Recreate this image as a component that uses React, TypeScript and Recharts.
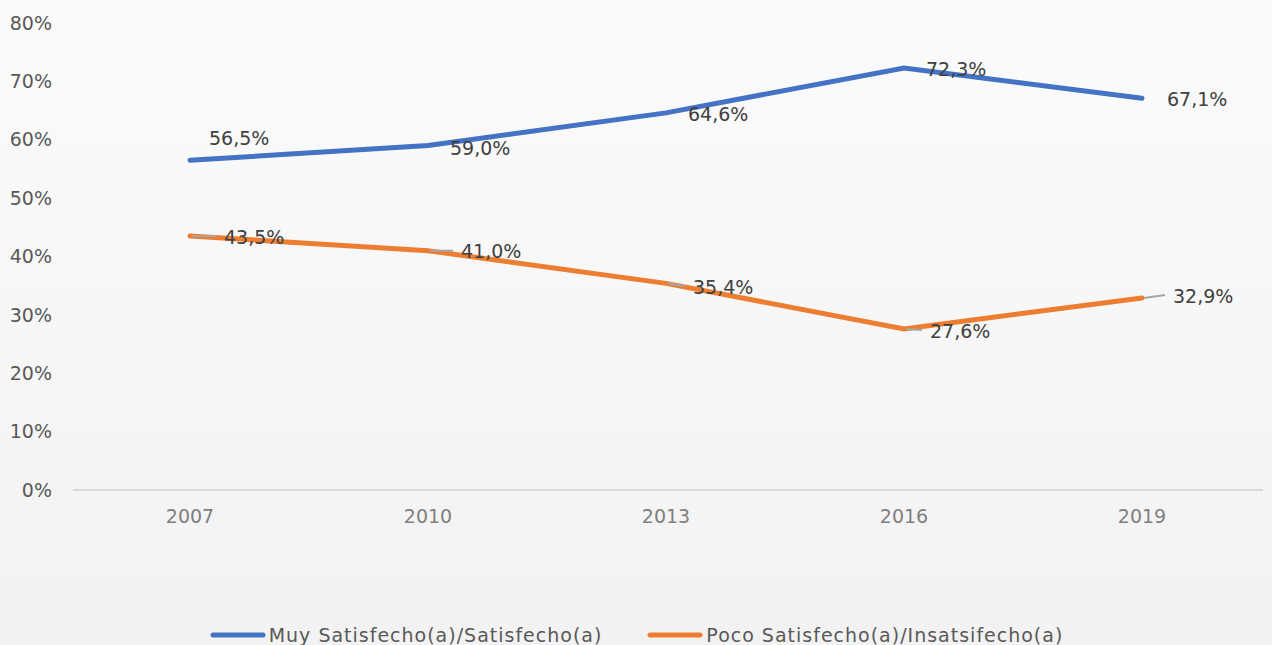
import { LineChart, Line, XAxis, YAxis, Legend, LabelList } from 'recharts';

const years = ['2007', '2010', '2013', '2016', '2019'];
const satisfechos = [56.5, 59.0, 64.6, 72.3, 67.1];
const insatisfechos = [43.5, 41.0, 35.4, 27.6, 32.9];
const yTicks = [0, 10, 20, 30, 40, 50, 60, 70, 80];

const seriesNames = ['Muy Satisfecho(a)/Satisfecho(a)', 'Poco Satisfecho(a)/Insatsifecho(a)'];
const seriesColors = ['#4472C4', '#ED7D31'];

// label placement per point (offsets from the point, in px)
const blueLabelPos = [
  { dx: 19, dy: -22, leader: false },
  { dx: 22, dy: 3, leader: false },
  { dx: 22, dy: 1, leader: false },
  { dx: 22, dy: 1, leader: false },
  { dx: 25, dy: 1, leader: false },
];
const orangeLabelPos = [
  { dx: 34, dy: 1, leader: true },
  { dx: 33, dy: 1, leader: true },
  { dx: 27, dy: 4, leader: true },
  { dx: 26, dy: 2, leader: true },
  { dx: 31, dy: -2, leader: true },
];

const data = years.map((y, i) => ({ year: y, a: satisfechos[i], b: insatisfechos[i] }));

const fmt = (v: number) => v.toFixed(1).replace('.', ',') + '%';

const FONT = "'DejaVu Sans', sans-serif";

function makeLabel(pos: { dx: number; dy: number; leader: boolean }[]) {
  return (props: any) => {
    const { x, y, value, index } = props;
    const p = pos[index];
    const tx = x + p.dx;
    const ty = y + p.dy;
    return (
      <g>
        {p.leader && (
          <path
            d={`M${x + 2},${y} L${tx - 8},${ty - 1}`}
            stroke="#A6A6A6"
            strokeWidth={2}
            fill="none"
          />
        )}
        <text x={tx} y={ty} dy="0.35em" fill="#404040" fontSize={19} fontFamily={FONT}>
          {fmt(value)}
        </text>
      </g>
    );
  };
}

function LegendContent() {
  return (
    <div style={{ display: 'flex', justifyContent: 'center', gap: 44, height: 30, fontFamily: FONT }}>
      {seriesNames.map((n, i) => (
        <div key={n} style={{ display: 'flex', alignItems: 'center' }}>
          <svg width={58} height={8}>
            <line x1={4} y1={4} x2={54} y2={4} stroke={seriesColors[i]} strokeWidth={5} strokeLinecap="round" />
          </svg>
          <span style={{ fontSize: 19, letterSpacing: 1, color: '#595959', marginLeft: 2 }}>{n}</span>
        </div>
      ))}
    </div>
  );
}

export default function App() {
  return (
    <div
      style={{
        position: 'absolute',
        left: 0,
        top: 0,
        width: 1272,
        height: 645,
        overflow: 'hidden',
        background: 'linear-gradient(#fbfbfb, #f2f2f2)',
      }}
    >
      <LineChart width={1272} height={645} data={data} margin={{ top: 23, right: 9, left: 0, bottom: 85 }}>
        <XAxis
          dataKey="year"
          height={40}
          padding={{ left: 117, right: 121 }}
          axisLine={{ stroke: '#D9D9D9', strokeWidth: 2 }}
          tickLine={false}
          tickMargin={14}
          tick={{ fill: '#7F7F7F', fontSize: 19, fontFamily: FONT }}
        />
        <YAxis
          width={73}
          domain={[0, 80]}
          ticks={yTicks}
          tickFormatter={(v: number) => v + '%'}
          axisLine={false}
          tickLine={false}
          tickMargin={15}
          tick={{ fill: '#595959', fontSize: 19, fontFamily: FONT }}
        />
        <Legend
          verticalAlign="bottom"
          height={30}
          content={<LegendContent />}
          wrapperStyle={{ top: 620, left: 0, width: 1272 }}
        />
        <Line
          dataKey="a"
          name={seriesNames[0]}
          stroke={seriesColors[0]}
          strokeWidth={5}
          strokeLinecap="round"
          dot={false}
          isAnimationActive={false}
        >
          <LabelList dataKey="a" content={makeLabel(blueLabelPos)} />
        </Line>
        <Line
          dataKey="b"
          name={seriesNames[1]}
          stroke={seriesColors[1]}
          strokeWidth={5}
          strokeLinecap="round"
          dot={false}
          isAnimationActive={false}
        >
          <LabelList dataKey="b" content={makeLabel(orangeLabelPos)} />
        </Line>
      </LineChart>
    </div>
  );
}
